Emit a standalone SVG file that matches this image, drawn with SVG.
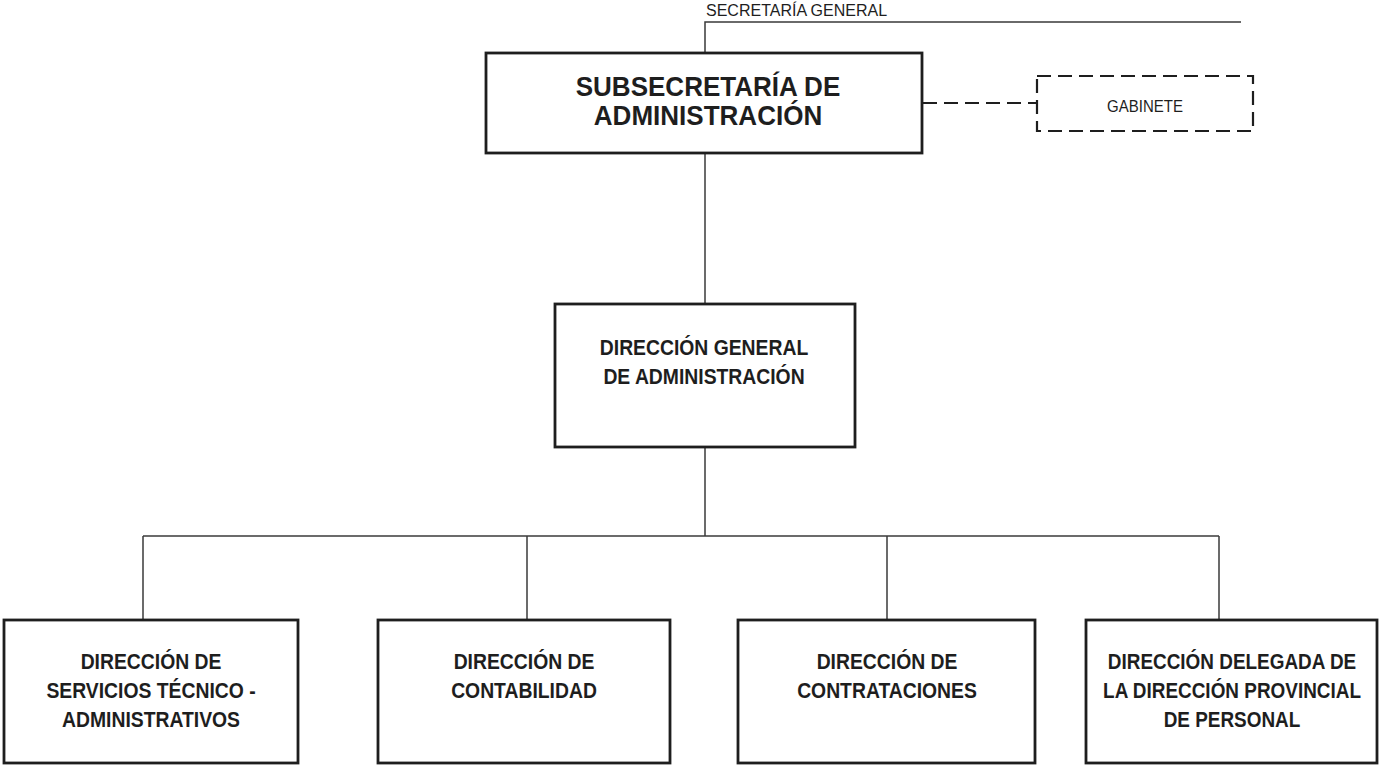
<svg xmlns="http://www.w3.org/2000/svg" width="1381" height="767" viewBox="0 0 1381 767">
<style>
.box{fill:#fff;stroke:#1e1e1e;stroke-width:2.8}
.dash{fill:none;stroke:#1e1e1e;stroke-width:2.2;stroke-dasharray:14 7}
.ln{fill:none;stroke:#3a3a3a;stroke-width:1.5}
.tb{font-family:"Liberation Sans",Arial,sans-serif;font-weight:bold;fill:#1e1e1e;text-anchor:middle}
.tr{font-family:"Liberation Sans",Arial,sans-serif;fill:#1e1e1e}
</style>
<rect width="1381" height="767" fill="#fff"/>
<g id="connectors">
<polyline class="ln" points="1241,22 705,22 705,53"/>
<line class="ln" x1="705" y1="153" x2="705" y2="304"/>
<line class="ln" x1="705" y1="447" x2="705" y2="536"/>
<line class="ln" x1="143" y1="536" x2="1219" y2="536"/>
<line class="ln" x1="143" y1="536" x2="143" y2="620"/>
<line class="ln" x1="527" y1="536" x2="527" y2="620"/>
<line class="ln" x1="887" y1="536" x2="887" y2="620"/>
<line class="ln" x1="1219" y1="536" x2="1219" y2="620"/>
<line class="dash" x1="923" y1="103" x2="1037" y2="103"/>
</g>
<g id="secretaria-general">
<text class="tr" x="706" y="16" font-size="16">SECRETARÍA GENERAL</text>
</g>
<g id="subsecretaria">
<rect class="box" x="486" y="53" width="436" height="100"/>
<text class="tb" font-size="28" transform="translate(708 0) scale(0.93 1)"><tspan x="0" y="96">SUBSECRETARÍA DE</tspan><tspan x="0" y="125">ADMINISTRACIÓN</tspan></text>
</g>
<g id="gabinete">
<rect class="dash" x="1037" y="76" width="216" height="55"/>
<text class="tr" font-size="15.8" text-anchor="middle" transform="translate(1145 0) scale(0.95 1)"><tspan x="0" y="112">GABINETE</tspan></text>
</g>
<g id="direccion-general">
<rect class="box" x="555" y="304" width="300" height="143"/>
<text class="tb" font-size="21.5" transform="translate(704 0) scale(0.9 1)"><tspan x="0" y="355">DIRECCIÓN GENERAL</tspan><tspan x="0" y="384">DE ADMINISTRACIÓN</tspan></text>
</g>
<g id="servicios-tecnico">
<rect class="box" x="4" y="620" width="294" height="143"/>
<text class="tb" font-size="21.5" transform="translate(151 0) scale(0.9 1)"><tspan x="0" y="669">DIRECCIÓN DE</tspan><tspan x="0" y="698">SERVICIOS TÉCNICO -</tspan><tspan x="0" y="727">ADMINISTRATIVOS</tspan></text>
</g>
<g id="contabilidad">
<rect class="box" x="378" y="620" width="292" height="143"/>
<text class="tb" font-size="21.5" transform="translate(524 0) scale(0.9 1)"><tspan x="0" y="669">DIRECCIÓN DE</tspan><tspan x="0" y="698">CONTABILIDAD</tspan></text>
</g>
<g id="contrataciones">
<rect class="box" x="738" y="620" width="297" height="143"/>
<text class="tb" font-size="21.5" transform="translate(887 0) scale(0.9 1)"><tspan x="0" y="669">DIRECCIÓN DE</tspan><tspan x="0" y="698">CONTRATACIONES</tspan></text>
</g>
<g id="personal">
<rect class="box" x="1086" y="620" width="291" height="143"/>
<text class="tb" font-size="21.5" transform="translate(1232 0) scale(0.88 1)"><tspan x="0" y="669">DIRECCIÓN DELEGADA DE</tspan><tspan x="0" y="698">LA DIRECCIÓN PROVINCIAL</tspan><tspan x="0" y="727">DE PERSONAL</tspan></text>
</g>
</svg>
